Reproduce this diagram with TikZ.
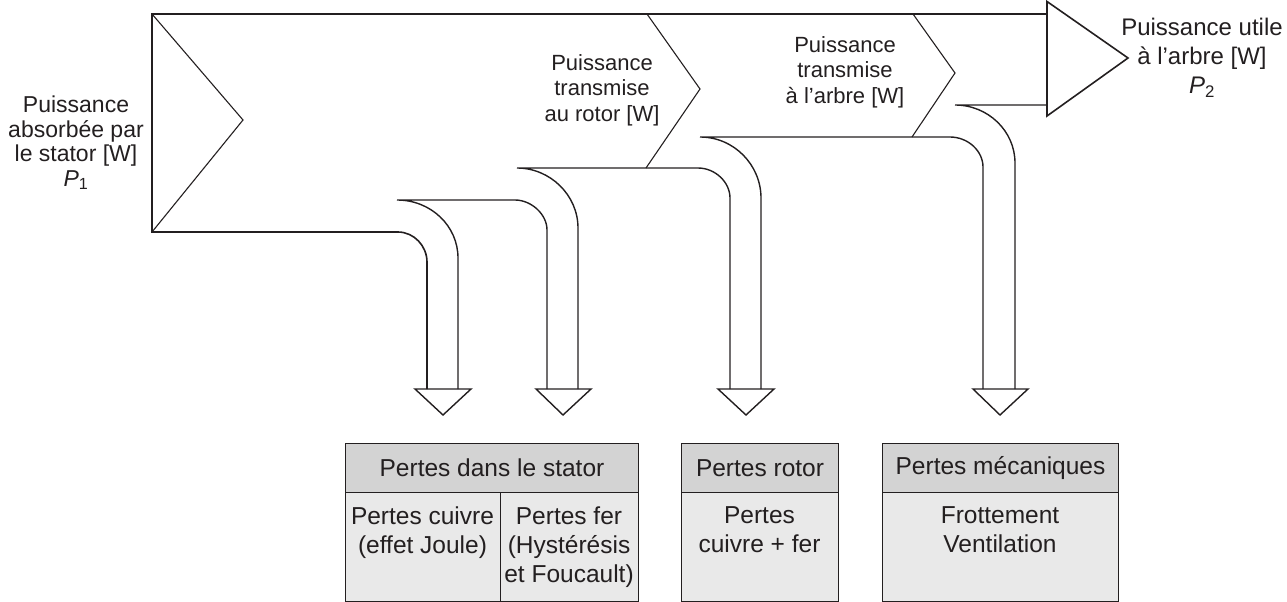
\documentclass[tikz,border=0pt]{standalone}
\usepackage{fontspec}
\setmainfont{Liberation Sans}
\definecolor{hdrgray}{RGB}{211,211,211}
\definecolor{bodygray}{RGB}{233,233,233}
\definecolor{ink}{RGB}{35,31,32}
\begin{document}
\begin{tikzpicture}[x=1pt,y=-1pt,
  band/.style={draw=ink, line width=1.6pt, line join=miter},
  flow/.style={draw=ink, line width=1.4pt, line join=miter},
  chev/.style={draw=ink, line width=1.1pt},
  lab/.style={align=center, inner sep=0pt, text=ink, font=\fontsize{22}{25.5}\selectfont},
  hdr/.style={draw=ink, line width=1pt, fill=hdrgray, minimum height=49pt, inner sep=0pt, anchor=north west, text=ink, font=\fontsize{24.5}{29}\selectfont},
  bodybox/.style={draw=ink, line width=1pt, fill=bodygray, minimum height=108.5pt, anchor=north west, inner sep=0pt},
  bodytxt/.style={align=center, anchor=north, inner sep=0pt, text=ink, font=\fontsize{24.5}{29}\selectfont}]

\useasboundingbox (0,0) rectangle (1287,602);

% main band outline
\draw[band] (1047,14) -- (152,14) -- (152,232) -- (398,232)
  .. controls (414,232) and (427,246) .. (427,262) -- (427,389);
\draw[chev] (152,14) -- (243,120) -- (152,232);
\draw[chev] (647,14) -- (700,89) -- (646,168);
\draw[chev] (913,14) -- (955,73) -- (912,137);

% arrow 1 / 2
\draw[flow] (415,389) -- (471,389) -- (443,415) -- cycle;
\draw[flow] (458,389) -- (458,258) .. controls (458,226) and (431,200) .. (397,200)
  -- (515,200) .. controls (531,200) and (547,214) .. (547,230) -- (547,389);
\draw[flow] (536,389) -- (591,389) -- (563,415) -- cycle;
% arrow 2 / 3
\draw[flow] (578,389) -- (578,228) .. controls (578,195) and (550,168) .. (517,168)
  -- (698,168) .. controls (715,168) and (730,182) .. (730,198) -- (730,389);
\draw[flow] (718,389) -- (774,389) -- (746,415) -- cycle;
% arrow 3 / 4
\draw[flow] (761,389) -- (761,198) .. controls (761,165) and (734,137) .. (700,137)
  -- (950,137) .. controls (968,137) and (983,151) .. (983,167) -- (983,389);
\draw[flow] (973,389) -- (1028,389) -- (1000,415) -- cycle;
% arrow 4 / output
\draw[flow] (1015,389) -- (1015,163) .. controls (1015,131) and (988,105) .. (955,105)
  -- (1047,105);
\draw[band] (1047,1.5) -- (1047,116) -- (1128,58) -- cycle;

% labels
\node[lab, font=\fontsize{23}{24.5}\selectfont] (pabs) at (76,143)
  {Puissance\\absorbée par\\le stator [W]\\\textit{P}\textsubscript{1}};
\node[lab] (prot) at (602,90) {Puissance\\transmise\\au rotor [W]};
\node[lab] (parb) at (845,72) {Puissance\\transmise\\à l’arbre [W]};
\node[lab, font=\fontsize{24}{29}\selectfont] (putl) at (1202,58)
  {Puissance utile\\à l’arbre [W]\\\textit{P}\textsubscript{2}};

% loss boxes
\node[hdr, minimum width=293pt] (h1) at (345,443) {Pertes dans le stator};
\node[bodybox, minimum width=155pt] (b1a) at (345,492) {};
\node[bodybox, minimum width=138pt] (b1b) at (500,492) {};
\node[bodytxt] (t1a) at (422.5,506.5) {Pertes cuivre\\(effet Joule)};
\node[bodytxt] (t1b) at (569,506.5) {Pertes fer\\(Hystérésis\\et Foucault)};

\node[hdr, minimum width=157pt] (h2) at (681,443) {Pertes rotor};
\node[bodybox, minimum width=157pt] (b2) at (681,492) {};
\node[bodytxt] (t2) at (759.5,506.5) {Pertes\\cuivre + fer};

\node[hdr, minimum width=236pt] (h3) at (882,443) {Pertes mécaniques};
\node[bodybox, minimum width=236pt] (b3) at (882,492) {};
\node[bodytxt] (t3) at (1000,506.5) {Frottement\\Ventilation};
\end{tikzpicture}
\end{document}
